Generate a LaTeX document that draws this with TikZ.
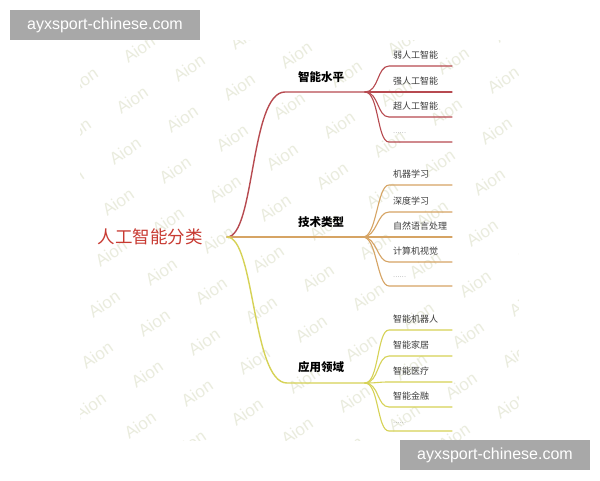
\documentclass[tikz,border=0pt]{standalone}
\usepackage{fontspec}
\newfontfamily\cjk{Noto Sans CJK SC}
\newfontfamily\urlfont{Liberation Sans}
\definecolor{cone}{RGB}{183,74,80}
\definecolor{ctwo}{RGB}{214,164,100}
\definecolor{cthree}{RGB}{214,210,86}
\definecolor{rootred}{RGB}{200,58,50}
\definecolor{wmcol}{RGB}{234,236,222}
\definecolor{boxgray}{RGB}{168,168,168}
\definecolor{leaftext}{RGB}{60,60,60}
\tikzset{
  wm/.style={font=\urlfont\fontsize{17}{17}\selectfont, text=wmcol, rotate=34, inner sep=0pt},
  rootlabel/.style={font=\cjk\fontsize{17.5}{20}\selectfont, text=rootred, inner sep=0pt},
  blabel/.style={font=\cjk\bfseries\fontsize{11.5}{13}\selectfont, text=black, inner sep=0pt},
  llabel/.style={font=\cjk\fontsize{9}{10}\selectfont, text=leaftext, inner sep=0pt, anchor=west},
  dots/.style={font=\cjk\fontsize{6}{7}\selectfont, text=black!55, inner sep=0pt, anchor=west},
  mainedge/.style={line width=1.4pt, line cap=round},
  leafedge/.style={line width=1.1pt, line cap=round},
  urlbox/.style={fill=boxgray, text=white, font=\urlfont\fontsize{16}{18}\selectfont, minimum width=190pt, minimum height=30pt, inner sep=0pt}
}
\begin{document}
\begin{tikzpicture}[x=1pt,y=-1pt]
\useasboundingbox (0,0) rectangle (600,480);
\fill[white] (0,0) rectangle (600,480);
% watermark
\begin{scope}
\clip (80,40) rectangle (518,440);
\foreach \i in {-5,...,10}{
  \foreach \j in {-6,...,9}{
    \pgfmathsetmacro\wx{175+50*(\i-1)-7*(\j-2)}
    \pgfmathsetmacro\wy{170+19*(\i-1)+51*(\j-2)}
    \pgfmathtruncatemacro\ok{and(and(\wx>62,\wx<536),and(\wy>28,\wy<452))}
    \ifnum\ok=1
      \node[wm] (wm\i x\j) at (\wx,\wy) {Aion};
    \fi
  }
}
\end{scope}
% root
\node[rootlabel] (root) at (150,237) {人工智能分类};
\coordinate (r) at (227,237);
% branch 1
\coordinate (b1s) at (285,92);
\coordinate (j1) at (365,92);
\draw[mainedge, cone] (r) .. controls +(28,0) and +(-35,0) .. (b1s) -- (j1);
\node[blabel] (l1) at (321,77) {智能水平};
% branch 2
\coordinate (j2) at (363,237);
\draw[mainedge, ctwo] (r) -- (j2);
\node[blabel] (l2) at (321,222) {技术类型};
% branch 3
\coordinate (b3s) at (287,383);
\coordinate (j3) at (365,383);
\draw[mainedge, cthree] (r) .. controls +(28,0) and +(-35,0) .. (b3s) -- (j3);
\node[blabel] (l3) at (321,367) {应用领域};
% leaves branch 1
\foreach \y/\t/\n in {66/弱人工智能/a, 92/强人工智能/b, 117/超人工智能/c}{
  \coordinate (s1\n) at (389,\y);
  \coordinate (e1\n) at (452,\y);
  \draw[leafedge, cone] (j1) .. controls +(14,0) and +(-12,0) .. (s1\n) -- (e1\n);
  \node[llabel] (t1\n) at (393,\y-11) {\t};
}
\coordinate (s1d) at (389,142);
\coordinate (e1d) at (452,142);
\draw[leafedge, cone] (j1) .. controls +(14,0) and +(-12,0) .. (s1d) -- (e1d);
\node[dots] (t1d) at (393,133) {……};
% leaves branch 2
\foreach \y/\t/\n in {185/机器学习/a, 212/深度学习/b, 237/自然语言处理/c, 262/计算机视觉/d}{
  \coordinate (s2\n) at (389,\y);
  \coordinate (e2\n) at (452,\y);
  \draw[leafedge, ctwo] (j2) .. controls +(14,0) and +(-12,0) .. (s2\n) -- (e2\n);
  \node[llabel] (t2\n) at (393,\y-11) {\t};
}
\coordinate (s2e) at (389,286);
\coordinate (e2e) at (452,286);
\draw[leafedge, ctwo] (j2) .. controls +(14,0) and +(-12,0) .. (s2e) -- (e2e);
\node[dots] (t2e) at (393,277) {……};
% leaves branch 3
\foreach \y/\t/\n in {330/智能机器人/a, 356/智能家居/b, 382/智能医疗/c, 407/智能金融/d}{
  \coordinate (s3\n) at (389,\y);
  \coordinate (e3\n) at (452,\y);
  \draw[leafedge, cthree] (j3) .. controls +(14,0) and +(-12,0) .. (s3\n) -- (e3\n);
  \node[llabel] (t3\n) at (393,\y-11) {\t};
}
\coordinate (s3e) at (389,431);
\coordinate (e3e) at (452,431);
\draw[leafedge, cthree] (j3) .. controls +(14,0) and +(-12,0) .. (s3e) -- (e3e);
\node[dots] (t3e) at (393,423) {……};
% url boxes
\node[urlbox] (url1) at (105,25) {ayxsport-chinese.com};
\node[urlbox] (url2) at (495,455) {ayxsport-chinese.com};
\end{tikzpicture}
\end{document}
